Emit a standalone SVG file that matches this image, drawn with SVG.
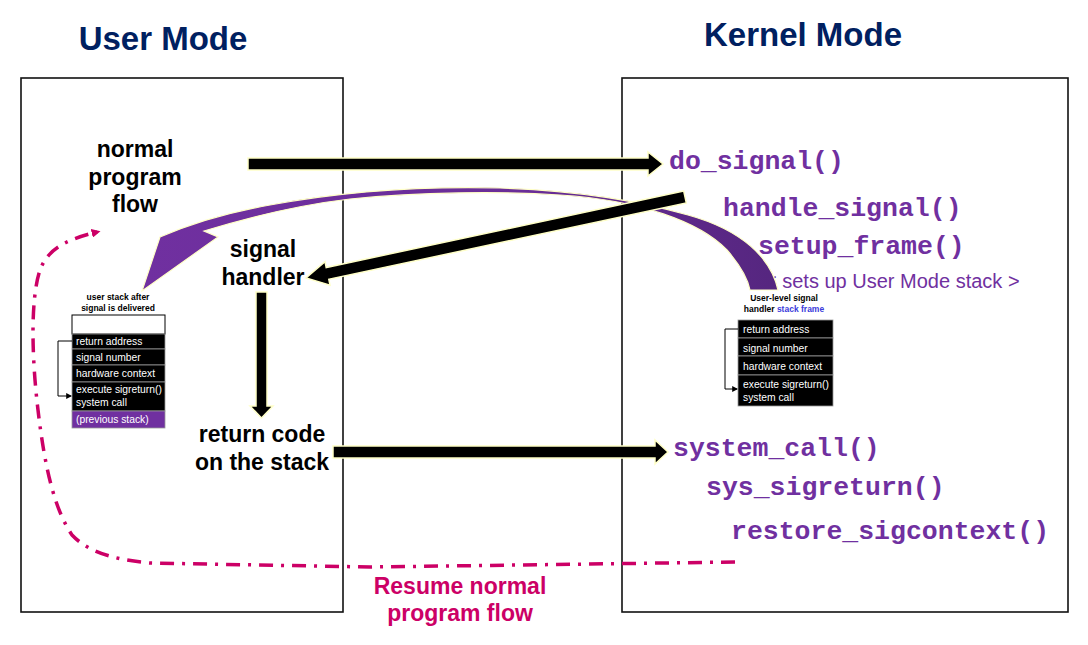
<svg xmlns="http://www.w3.org/2000/svg" width="1088" height="645" viewBox="0 0 1088 645">
<defs>
<style>
.title{font-family:"Liberation Sans",Arial,sans-serif;font-weight:bold;font-size:33px;fill:#002060;text-anchor:middle}
.lbl{font-family:"Liberation Sans",Arial,sans-serif;font-weight:bold;font-size:23px;fill:#000;text-anchor:middle}
.fn{font-family:"Liberation Mono","Courier New",monospace;font-weight:bold;font-size:26.5px;fill:#7030a0}
.note{font-family:"Liberation Sans",Arial,sans-serif;font-size:20px;fill:#7030a0}
.resume{font-family:"Liberation Sans",Arial,sans-serif;font-weight:bold;font-size:23px;fill:#cc0066;text-anchor:middle}
.stitle{font-family:"Liberation Sans",Arial,sans-serif;font-weight:bold;font-size:8.5px;fill:#000;text-anchor:middle}
.cell{fill:#000;stroke:#9a9a9a;stroke-width:0.8}
.ctext{font-family:"Liberation Sans",Arial,sans-serif;font-size:10.3px;fill:#fff}
.box{fill:none;stroke:#111;stroke-width:1.6}
.blk{fill:#000;stroke:#ffffc8;stroke-width:1.5;stroke-linejoin:miter}
.brk{fill:none;stroke:#000;stroke-width:1}
.dash{fill:none;stroke:#cc0066;stroke-width:3.5;stroke-dasharray:14 8 3 8}
</style>
<marker id="tri" viewBox="0 0 10 10" refX="8" refY="5" markerWidth="6" markerHeight="6" orient="auto" markerUnits="userSpaceOnUse">
<path d="M0,0 L10,5 L0,10 z" fill="#000"/>
</marker>
<marker id="mag" viewBox="0 0 10 10" refX="6" refY="5" markerWidth="9" markerHeight="9" orient="auto" markerUnits="userSpaceOnUse">
<path d="M0,0 L10,5 L0,10 z" fill="#cc0066"/>
</marker>
<linearGradient id="pg" x1="140" y1="0" x2="778" y2="0" gradientUnits="userSpaceOnUse">
<stop offset="0" stop-color="#7030a0"/>
<stop offset="0.6" stop-color="#6a2d98"/>
<stop offset="1" stop-color="#55267f"/>
</linearGradient>
</defs>
<rect width="1088" height="645" fill="#fff"/>

<g id="title-user"><text class="title" x="163" y="50">User Mode</text></g>
<g id="title-kernel"><text class="title" x="803" y="46">Kernel Mode</text></g>

<g id="box-user"><rect class="box" x="21" y="78" width="322" height="534"/></g>
<g id="box-kernel"><rect class="box" x="622" y="78" width="446" height="534"/></g>

<g id="node-normal-flow">
<text class="lbl" x="135" y="157">normal</text>
<text class="lbl" x="135" y="185">program</text>
<text class="lbl" x="135" y="212">flow</text>
</g>
<g id="node-signal-handler">
<text class="lbl" x="263" y="257">signal</text>
<text class="lbl" x="263" y="285">handler</text>
</g>
<g id="node-return-code">
<text class="lbl" x="262" y="442">return code</text>
<text class="lbl" x="262" y="470">on the stack</text>
</g>

<g id="node-kernel-functions">
<text class="fn" x="669" y="169">do_signal()</text>
<text class="fn" x="723" y="216">handle_signal()</text>
<text class="fn" x="758" y="254">setup_frame()</text>
<text class="note" x="765" y="288">&lt; sets up User Mode stack &gt;</text>
<text class="fn" x="673" y="456">system_call()</text>
<text class="fn" x="706" y="495">sys_sigreturn()</text>
<text class="fn" x="731" y="539">restore_sigcontext()</text>
</g>

<g id="node-resume">
<text class="resume" x="460" y="594">Resume normal</text>
<text class="resume" x="460" y="621">program flow</text>
</g>

<g id="stack-user">
<text class="stitle" x="118" y="300">user stack after</text>
<text class="stitle" x="118" y="311">signal is delivered</text>
<rect x="72" y="315" width="93" height="19" fill="#fff" stroke="#000" stroke-width="1"/>
<rect class="cell" x="72" y="334" width="93" height="15"/>
<rect class="cell" x="72" y="349" width="93" height="16"/>
<rect class="cell" x="72" y="365" width="93" height="17"/>
<rect class="cell" x="72" y="382" width="93" height="29"/>
<rect x="72" y="411" width="93" height="17" fill="#7030a0" stroke="#9a9a9a" stroke-width="0.8"/>
<text class="ctext" x="76" y="345">return address</text>
<text class="ctext" x="76" y="361">signal number</text>
<text class="ctext" x="76" y="377">hardware  context</text>
<text class="ctext" x="76" y="393">execute sigreturn()</text>
<text class="ctext" x="76" y="406">system call</text>
<text class="ctext" x="76" y="423">(previous stack)</text>
<polyline class="brk" points="72,341 58,341 58,396 71,396" marker-end="url(#tri)"/>
</g>

<g id="stack-kernel">
<text class="stitle" x="784" y="301">User-level signal</text>
<text class="stitle" x="784" y="312">handler <tspan fill="#3b3bdb">stack frame</tspan></text>
<rect class="cell" x="738" y="320" width="95" height="18"/>
<rect class="cell" x="738" y="338" width="95" height="18"/>
<rect class="cell" x="738" y="356" width="95" height="19"/>
<rect class="cell" x="738" y="375" width="95" height="31"/>
<text class="ctext" x="743" y="333">return address</text>
<text class="ctext" x="743" y="352">signal number</text>
<text class="ctext" x="743" y="370">hardware  context</text>
<text class="ctext" x="743" y="388">execute sigreturn()</text>
<text class="ctext" x="743" y="401">system call</text>
<polyline class="brk" points="738,329 725,329 725,389 737,389" marker-end="url(#tri)"/>
</g>

<g id="connectors">
<path id="purple-arc" d="M 778 290 C 771 258, 742 230, 688 215 C 650 204, 590 191, 500 188 C 420 186, 340 192, 270 205 C 225 213, 190 224, 160 237 L 142 291 L 218 237 L 204 231 C 240 220, 290 206, 350 199 C 420 192, 500 191, 560 195 C 640 200, 700 222, 727 250 C 740 265, 748 280, 750 290 Z" fill="url(#pg)" stroke="#ffffc8" stroke-width="1.2" stroke-linejoin="miter"/>
<polygon id="arrow-to-do-signal" class="blk" points="248,158 648,158 648,152 663,164 648,176 648,170 248,170"/>
<polygon id="arrow-to-handler" class="blk" points="683.7,191.1 326.2,267.5 325.0,261.7 306,278 330.0,285.1 328.8,279.3 686.3,202.9"/>
<polygon id="arrow-down" class="blk" points="256,292 267,292 267,406 273,406 261.5,418 250,406 256,406"/>
<polygon id="arrow-to-system-call" class="blk" points="333,446 655,446 655,440 668,452 655,464 655,458 333,458"/>
<path id="resume-flow" class="dash" d="M 735 562 L 520 565 L 370 567 L 150 563 C 115 560, 88 552, 72 535 C 55 510, 45 470, 38 410 C 32 360, 30 300, 40 270 C 47 252, 60 241, 97 232" marker-end="url(#mag)"/>
</g>
</svg>
